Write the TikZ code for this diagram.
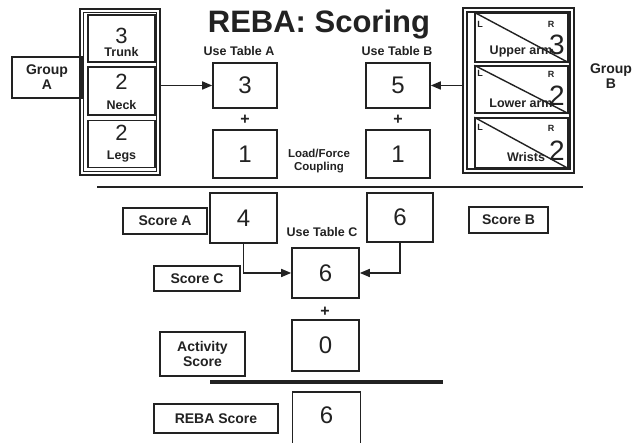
\documentclass[tikz,border=0pt]{standalone}
\usepackage{fontspec}
\setmainfont{Liberation Sans}
\usetikzlibrary{arrows.meta}
\definecolor{ink}{HTML}{222222}
\begin{document}
\begin{tikzpicture}[x=1pt,y=-1pt,
  every node/.style={text=ink},
  lbl/.style={draw=ink,line width=1.1pt,inner sep=0pt,align=center,font=\fontsize{14}{15}\selectfont\bfseries},
  numbox/.style={draw=ink,line width=1.6pt,inner sep=0pt,font=\fontsize{24}{24}\selectfont},
  cell/.style={draw=ink,line width=1.4pt,inner sep=0pt},
  small/.style={inner sep=0pt,font=\fontsize{12.5}{13}\selectfont\bfseries,align=center},
  tiny/.style={inner sep=0pt,font=\fontsize{9}{9}\selectfont\bfseries},
  cnum/.style={inner sep=0pt,font=\fontsize{22}{22}\selectfont},
  bnum/.style={inner sep=0pt,font=\fontsize{28}{28}\selectfont},
  plus/.style={inner sep=0pt,font=\fontsize{16}{16}\selectfont\bfseries},
  arr/.style={draw=ink,line width=1.6pt,-{Triangle[length=10pt,width=8pt]}}]
\useasboundingbox[fill=white] (0,0) rectangle (633,443);

% title
\node[inner sep=0pt,font=\fontsize{31}{31}\selectfont\bfseries] (title) at (319,25) {REBA: Scoring};

% Group A
\node[draw=ink,line width=1.6pt,minimum width=80,minimum height=166,inner sep=0pt] (outerA) at (120,92) {};
\node[draw=ink,line width=1.1pt,minimum width=73,minimum height=159,inner sep=0pt] (innerA) at (120,92) {};
\node[lbl,minimum width=70,minimum height=41] (grpA) at (47,77.5) {Group\\A};
\node[cell,minimum width=67,minimum height=47] (trunk) at (121.5,38.5) {};
\node[cell,minimum width=67,minimum height=48] (neck) at (121.5,91) {};
\node[cell,minimum width=67,minimum height=47] (legs) at (121.5,144) {};
\node[cnum] (tn) at (121.5,36) {3};
\node[small] (tl) at (121.5,52) {Trunk};
\node[cnum] (nn) at (121.5,82) {2};
\node[small] (nl) at (121.5,105) {Neck};
\node[cnum] (ln) at (121.5,133) {2};
\node[small] (ll) at (121.5,157) {Legs};

% Table A
\node[small] (useA) at (239,51) {Use Table A};
\node[numbox,minimum width=64,minimum height=45] (bA) at (245,85.5) {3};
\node[plus] (plusA) at (245,120) {+};
\node[numbox,minimum width=64,minimum height=48] (bA2) at (245,154) {1};
\node[small,font=\fontsize{11.5}{12.5}\selectfont\bfseries] (load) at (319,161) {Load/Force\\Coupling};

% Table B
\node[small] (useB) at (397,51) {Use Table B};
\node[numbox,minimum width=64,minimum height=45] (bB) at (398,85.5) {5};
\node[plus] (plusB) at (398,120) {+};
\node[numbox,minimum width=64,minimum height=48] (bB2) at (398,154) {1};

% Group B
\node[draw=ink,line width=1.6pt,minimum width=111,minimum height=165,inner sep=0pt] (outerB) at (518.5,90.5) {};
\node[draw=ink,line width=1.1pt,minimum width=103,minimum height=157,inner sep=0pt] (innerB) at (518.5,90.5) {};
\node[cell,minimum width=93,minimum height=49] (upper) at (521.5,37.5) {};
\node[cell,minimum width=93,minimum height=47] (lower) at (521.5,89.5) {};
\node[cell,minimum width=93,minimum height=50] (wrist) at (521.5,143) {};
\draw[ink,line width=1.4pt] (upper.north west) -- (upper.south east);
\draw[ink,line width=1.4pt] (lower.north west) -- (lower.south east);
\draw[ink,line width=1.4pt] (wrist.north west) -- (wrist.south east);
\node[small] (ul) at (521,52) {Upper arm};
\node[small] (lwl) at (521,103) {Lower arm};
\node[small] (wl) at (526,157) {Wrists};
\node[bnum] (un) at (557,45) {3};
\node[bnum] (lwn) at (557,96) {2};
\node[bnum] (wn) at (557,151) {2};
\node[tiny] (uL) at (480,24) {L};
\node[tiny] (uR) at (551,24) {R};
\node[tiny] (lL) at (480,73) {L};
\node[tiny] (lR) at (551,74) {R};
\node[tiny] (wL) at (480,127) {L};
\node[tiny] (wR) at (551,128) {R};
\node[inner sep=0pt,align=center,font=\fontsize{14}{15}\selectfont\bfseries] (grpB) at (611,76) {Group\\B};

% arrows to tables
\draw[arr] (outerA.east |- bA.west) -- (bA.west);
\draw[arr] (outerB.west |- bB.east) -- (bB.east);

% divider
\coordinate (d1) at (97,187);
\coordinate (d2) at (583,187);
\draw[ink,line width=2pt] (d1) -- (d2);

% Scores
\node[lbl,minimum width=84,minimum height=26] (scoreA) at (165,221) {Score A};
\node[numbox,minimum width=67,minimum height=50] (b4) at (243.5,218) {4};
\node[small] (useC) at (322,232) {Use Table C};
\node[numbox,minimum width=66,minimum height=49] (b6B) at (400,217.5) {6};
\node[lbl,minimum width=79,minimum height=26] (scoreB) at (508.5,220) {Score B};
\node[lbl,minimum width=86,minimum height=25] (scoreC) at (197,278.5) {Score C};
\node[numbox,minimum width=67,minimum height=50] (bC) at (325.5,273) {6};
\draw[arr] (b4.south) |- (bC.west);
\draw[arr] (b6B.south) |- (bC.east);
\node[plus] (plusC) at (325,312) {+};
\node[numbox,minimum width=67,minimum height=51] (b0) at (325.5,345.5) {0};
\node[lbl,minimum width=85,minimum height=44] (actS) at (202.5,354) {Activity\\Score};
\coordinate (e1) at (210,382);
\coordinate (e2) at (443,382);
\draw[ink,line width=4pt] (e1) -- (e2);
\node[lbl,minimum width=124,minimum height=29] (rebaS) at (216,418.5) {REBA Score};
\node[numbox,minimum width=68,minimum height=56] (bF) at (326.5,420) {};
\node[inner sep=0pt,font=\fontsize{24}{24}\selectfont] (fn) at (326.5,415) {6};
\end{tikzpicture}
\end{document}
